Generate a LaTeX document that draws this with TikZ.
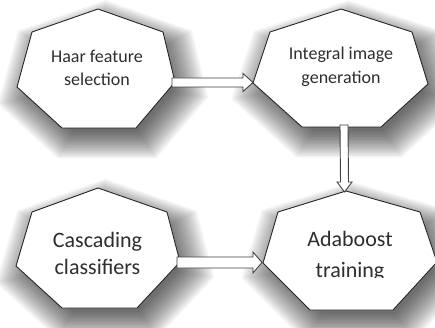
\documentclass[tikz,border=0pt]{standalone}
\usepackage{fontspec}
\setmainfont{Carlito}
\usetikzlibrary{calc}
\begin{document}
\begin{tikzpicture}[x=1pt,y=-1pt,
  hept/.style={fill=white,draw=black!85,line width=0.9pt,line join=miter},
  shad/.style={fill=black,opacity=0.042},
  lbl/.style={align=center,text=black!82,inner sep=0pt},
  blockarrow/.style={fill=white,draw=black!75,line width=0.9pt,line join=miter}]
\useasboundingbox (0,0) rectangle (435,328);
\clip (0,0) rectangle (435,328);
\def\HA{(98,9) -- (163,32) -- (175,82) -- (136,128) -- (62,128) -- (17,87) -- (32,32) -- cycle}
\def\HB{(341,9) -- (412,32) -- (428,84) -- (381,127) -- (302,127) -- (253,83) -- (270,32) -- cycle}
\def\HC{(98,188) -- (167,212) -- (180,262) -- (137,308) -- (62,308) -- (16,266) -- (32,212) -- cycle}
\def\HD{(346,191) -- (420,212) -- (437,262) -- (393,310) -- (310,310) -- (263,263) -- (278,212) -- cycle}
% soft shadows
\foreach \s in {0.88,0.905,...,1.34}{
  \fill[shad,shift={(103,80)},scale=\s,shift={(-96,-69)}] \HA;
  \fill[shad,shift={(347,79)},scale=\s,shift={(-340,-68)}] \HB;
  \fill[shad,shift={(105,260)},scale=\s,shift={(-98,-249)}] \HC;
  \fill[shad,shift={(356,262)},scale=\s,shift={(-349,-251)}] \HD;
}
% shapes
\filldraw[hept] \HA;
\filldraw[hept] \HB;
\filldraw[hept] \HC;
\filldraw[hept] \HD;
% connection points
\coordinate (h1r) at (172,82.5);
\coordinate (h2l) at (253,82.5);
\coordinate (h2b) at (344,125);
\coordinate (h4t) at (344.5,192);
\coordinate (h3r) at (177,262.5);
\coordinate (h4l) at (262,262.5);
% labels
\node[lbl,font=\fontsize{18}{23}\selectfont] (haar) at (97,67.5) {Haar feature\\selection};
\node[lbl,font=\fontsize{18}{24}\selectfont] (integral) at (341,67) {Integral image\\generation};
\node[lbl,font=\fontsize{22}{27}\selectfont] (cascade) at (97.5,253) {Cascading\\classifiers};
\begin{scope}
\clip (260,180) rectangle (440,277.5);
\node[lbl,font=\fontsize{22}{31}\selectfont] (ada) at (350,256) {Adaboost\\training};
\end{scope}
% block arrows
\filldraw[blockarrow] ($(h1r)+(0,-4.5)$) -- ($(h2l)+(-10,-4.5)$) -- ($(h2l)+(-10,-9)$) -- (h2l)
  -- ($(h2l)+(-10,9)$) -- ($(h2l)+(-10,4.5)$) -- ($(h1r)+(0,4.5)$) -- cycle;
\filldraw[blockarrow] ($(h2b)+(-4,0)$) -- ($(h4t)+(-4,-10)$) -- ($(h4t)+(-7.5,-10)$) -- (h4t)
  -- ($(h4t)+(7.5,-10)$) -- ($(h4t)+(4,-10)$) -- ($(h2b)+(4,0)$) -- cycle;
\filldraw[blockarrow] ($(h3r)+(0,-5.5)$) -- ($(h4l)+(-9,-5.5)$) -- ($(h4l)+(-9,-10.5)$) -- (h4l)
  -- ($(h4l)+(-9,10.5)$) -- ($(h4l)+(-9,5.5)$) -- ($(h3r)+(0,5.5)$) -- cycle;
\end{tikzpicture}
\end{document}
